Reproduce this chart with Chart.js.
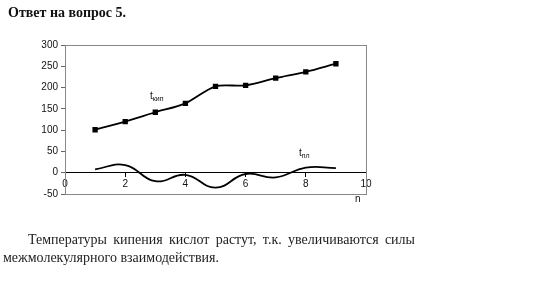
<!DOCTYPE html>
<html><head><meta charset="utf-8">
<script src="https://cdn.jsdelivr.net/npm/chart.js@4/dist/chart.umd.min.js"></script>
<style>
html,body{margin:0;padding:0;background:#fff;width:550px;height:300px;overflow:hidden;}
#wrap{position:relative;width:550px;height:300px;}
canvas{position:absolute;left:0;top:0;}
.t{position:absolute;font-family:"Liberation Serif",serif;color:#111;}
.lbl{position:absolute;font-family:"Liberation Sans",Arial,sans-serif;font-size:10px;color:#111;}
.lbl sub{font-size:7px;vertical-align:-2px;}
</style></head><body>
<div id="wrap">
<canvas id="c" width="550" height="300"></canvas>
<div class="t" style="left:8px;top:5px;font-size:14px;font-weight:bold;">Ответ на вопрос 5.</div>
<div class="lbl" style="left:150px;top:90px;">t<sub>кип</sub></div>
<div class="lbl" style="left:299px;top:147px;">t<sub>пл</sub></div>
<div class="lbl" style="left:355px;top:193px;">n</div>
<div class="t" style="left:3px;top:231px;width:412px;font-size:14px;line-height:18px;text-align:justify;text-indent:25px;color:#222;">Температуры кипения кислот растут, т.к. увеличиваются силы межмолекулярного взаимодействия.</div>
</div>
<script>
const nValues = [1,2,3,4,5,6,7,8,9];
const boilingT = [101,120,142,163,203,205,222,237,256];
const meltingT = [8,18,-20,-5,-35,-3,-11,12,11];
const xTicks = [0,2,4,6,8,10];
const yTicks = [-50,0,50,100,150,200,250,300];

const boxPlugin = {
  id:'box',
  beforeDatasetsDraw(chart){
    const a = chart.chartArea, ctx = chart.ctx;
    ctx.save();
    ctx.strokeStyle = '#888';
    ctx.lineWidth = 1;
    ctx.strokeRect(a.left+0.5, a.top+0.5, a.right-a.left, a.bottom-a.top);
    ctx.restore();
  }
};

new Chart(document.getElementById('c'), {
  type:'line',
  data:{
    datasets:[
      {data:nValues.map((n,i)=>({x:n,y:boilingT[i]})), borderColor:'#000', backgroundColor:'#000', borderWidth:1.8, pointStyle:'rect', pointRadius:2.5, tension:0.3},
      {data:nValues.map((n,i)=>({x:n,y:meltingT[i]})), borderColor:'#000', borderWidth:1.8, pointRadius:0, tension:0.45}
    ]
  },
  options:{
    responsive:false, animation:false,
    plugins:{legend:{display:false}, tooltip:{enabled:false}},
    layout:{padding:{left:18,top:45,right:184,bottom:106}},
    scales:{
      x:{type:'linear', min:0, max:10, position:{y:0},
         afterBuildTicks(s){s.ticks = xTicks.map(v=>({value:v}));},
         grid:{display:true, drawOnChartArea:false, drawTicks:true, tickLength:4, color:'#000'},
         border:{display:true,color:'#000',width:1},
         ticks:{color:'#111', font:{family:'Liberation Sans', size:10}, padding:2}},
      y:{type:'linear', min:-50, max:300,
         afterBuildTicks(s){s.ticks = yTicks.map(v=>({value:v}));},
         afterFit(s){s.width = 47;},
         grid:{display:true, drawOnChartArea:false, drawTicks:true, tickLength:4, color:'#666'},
         border:{display:false},
         ticks:{color:'#111', font:{family:'Liberation Sans', size:10}, padding:3}}
    }
  },
  plugins:[boxPlugin]
});
</script>
</body></html>
